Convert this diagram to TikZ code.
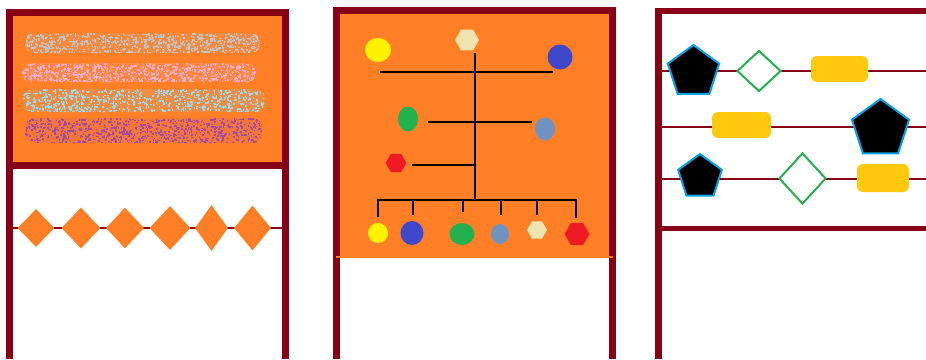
\documentclass[tikz,border=0pt]{standalone}
\usetikzlibrary{shapes.geometric}
\definecolor{wine}{HTML}{880015}
\definecolor{paintorange}{HTML}{FF7F27}
\definecolor{lemon}{HTML}{FFF200}
\definecolor{indigo}{HTML}{3F48CC}
\definecolor{leaf}{HTML}{22B14C}
\definecolor{steel}{HTML}{7092BE}
\definecolor{cream}{HTML}{EFE4B0}
\definecolor{scarlet}{HTML}{ED1C24}
\definecolor{gold}{HTML}{FFC90E}
\definecolor{skyline}{HTML}{00A2E8}
\definecolor{smoke}{HTML}{BFC3C3}
\definecolor{blush}{HTML}{FFAEC9}
\definecolor{aqua}{HTML}{99D9EA}
\definecolor{plum}{HTML}{A349A4}

\begin{document}
\begin{tikzpicture}[
  x=1pt, y=-1pt,
  frame/.style={draw=wine, line width=6.5, line join=miter},
  rail/.style={draw=wine, line width=2},
  twig/.style={draw=black, line width=2.7},
  dot/.style={ellipse, inner sep=0pt, draw=none},
  hexa/.style={regular polygon, regular polygon sides=6, inner sep=0pt, draw=none},
  penta/.style={regular polygon, regular polygon sides=5, inner sep=0pt, fill=black, draw=skyline, line width=2},
  gem/.style={diamond, inner sep=0pt, fill=white, draw=leaf, line width=2},
  kite/.style={diamond, inner sep=0pt, fill=paintorange},
  bar/.style={rectangle, rounded corners=6, inner sep=0pt, fill=gold}
]
  \useasboundingbox (0,0) rectangle (926,359);

  % left panel
  \fill[paintorange] (9.7,12.7) rectangle (285.3,165.3);
  \pgfmathsetseed{42}
  \foreach \xa/\ya/\xb/\yb/\col in {25/33/260/53/smoke, 22/63/256/82/blush, 23/89/265/112/aqua, 25/118/262/143/plum}{
    \begin{scope}
      \clip[rounded corners=9] (\xa,\ya) rectangle (\xb,\yb);
      \fill[\col, opacity=0.15] (\xa,\ya) rectangle (\xb,\yb);
      \foreach \k in {1,...,800}{
        \pgfmathsetmacro\px{\xa+rnd*(\xb-\xa)}
        \pgfmathsetmacro\py{\ya+rnd*(\yb-\ya)}
        \fill[\col] (\px,\py) rectangle ++(1.6,1.6);
      }
    \end{scope}
  }
  \draw[frame] (9.7,359) -- (9.7,12.7) -- (285.3,12.7) -- (285.3,359);
  \draw[frame] (9.7,165.3) -- (285.3,165.3);
  \coordinate (lineL) at (13,228);
  \coordinate (lineR) at (282,228);
  \draw[rail] (lineL) -- (lineR);
  \foreach \x/\w/\h [count=\i] in {36/37/38, 81/39/41, 125/38/41, 170/41/44, 211.5/33/46, 252.5/37/45}
    \node[kite, minimum width=\w, minimum height=\h] (kite\i) at (\x,228) {};

  % middle panel
  \fill[paintorange] (336.5,10.7) rectangle (612.5,257);
  \draw[frame] (336.5,359) -- (336.5,10.7) -- (612.5,10.7) -- (612.5,359);
  \draw[paintorange, line width=1.5] (336,257) -- (613,257);

  \node[dot, fill=lemon, minimum width=26, minimum height=24] (yellowA) at (378,50) {};
  \node[hexa, fill=cream, minimum size=24] (creamA) at (467,40) {};
  \node[dot, fill=indigo, minimum width=25, minimum height=25] (blueA) at (560,57) {};
  \node[dot, fill=leaf, minimum width=20, minimum height=25] (greenA) at (408,119) {};
  \node[dot, fill=steel, minimum width=20, minimum height=23] (steelA) at (545,129) {};
  \node[hexa, fill=scarlet, minimum size=21] (redA) at (396,163) {};

  \coordinate (trunkT) at (475,53);
  \coordinate (trunkB) at (475,200);
  \draw[twig] (trunkT) -- (trunkB);
  \draw[twig] (380,72) -- (553,72);
  \draw[twig] (428,122) -- (532,122);
  \draw[twig] (412,165) -- (475,165);
  \draw[twig] (378,200) -- (577,200);
  \foreach \x/\y in {378/217, 413/215, 463/212, 501/215, 537/215, 576/218}
    \draw[twig] (\x,198.7) -- (\x,\y);

  \node[dot, fill=lemon, minimum width=20, minimum height=20] (yellowB) at (378,233) {};
  \node[dot, fill=indigo, minimum width=23, minimum height=24] (blueB) at (412,233) {};
  \node[dot, fill=leaf, minimum width=25, minimum height=22] (greenB) at (462,234) {};
  \node[dot, fill=steel, minimum width=18, minimum height=20] (steelB) at (500,234) {};
  \node[hexa, fill=cream, minimum size=20] (creamB) at (537,230) {};
  \node[hexa, fill=scarlet, minimum size=25] (redB) at (577,234) {};

  % right panel
  \draw[frame] (658.5,359) -- (658.5,11.2) -- (930,11.2);
  \foreach \y in {71,127,179}
    \draw[rail] (662,\y) -- (926,\y);
  \draw[wine, line width=5] (661,228.5) -- (926,228.5);

  \node[penta, minimum size=54] (pentA) at (693.5,72) {};
  \node[gem, minimum width=44, minimum height=41] (gemA) at (759,71) {};
  \node[bar, minimum width=57, minimum height=26] (barA) at (839.5,69) {};
  \node[bar, minimum width=59, minimum height=26] (barB) at (741.5,125) {};
  \node[penta, minimum size=60] (pentB) at (880.5,129) {};
  \node[penta, minimum size=46] (pentC) at (700,177) {};
  \node[gem, minimum width=47, minimum height=51] (gemB) at (802.5,178.5) {};
  \node[bar, minimum width=52, minimum height=28] (barC) at (883,178) {};
\end{tikzpicture}
\end{document}
